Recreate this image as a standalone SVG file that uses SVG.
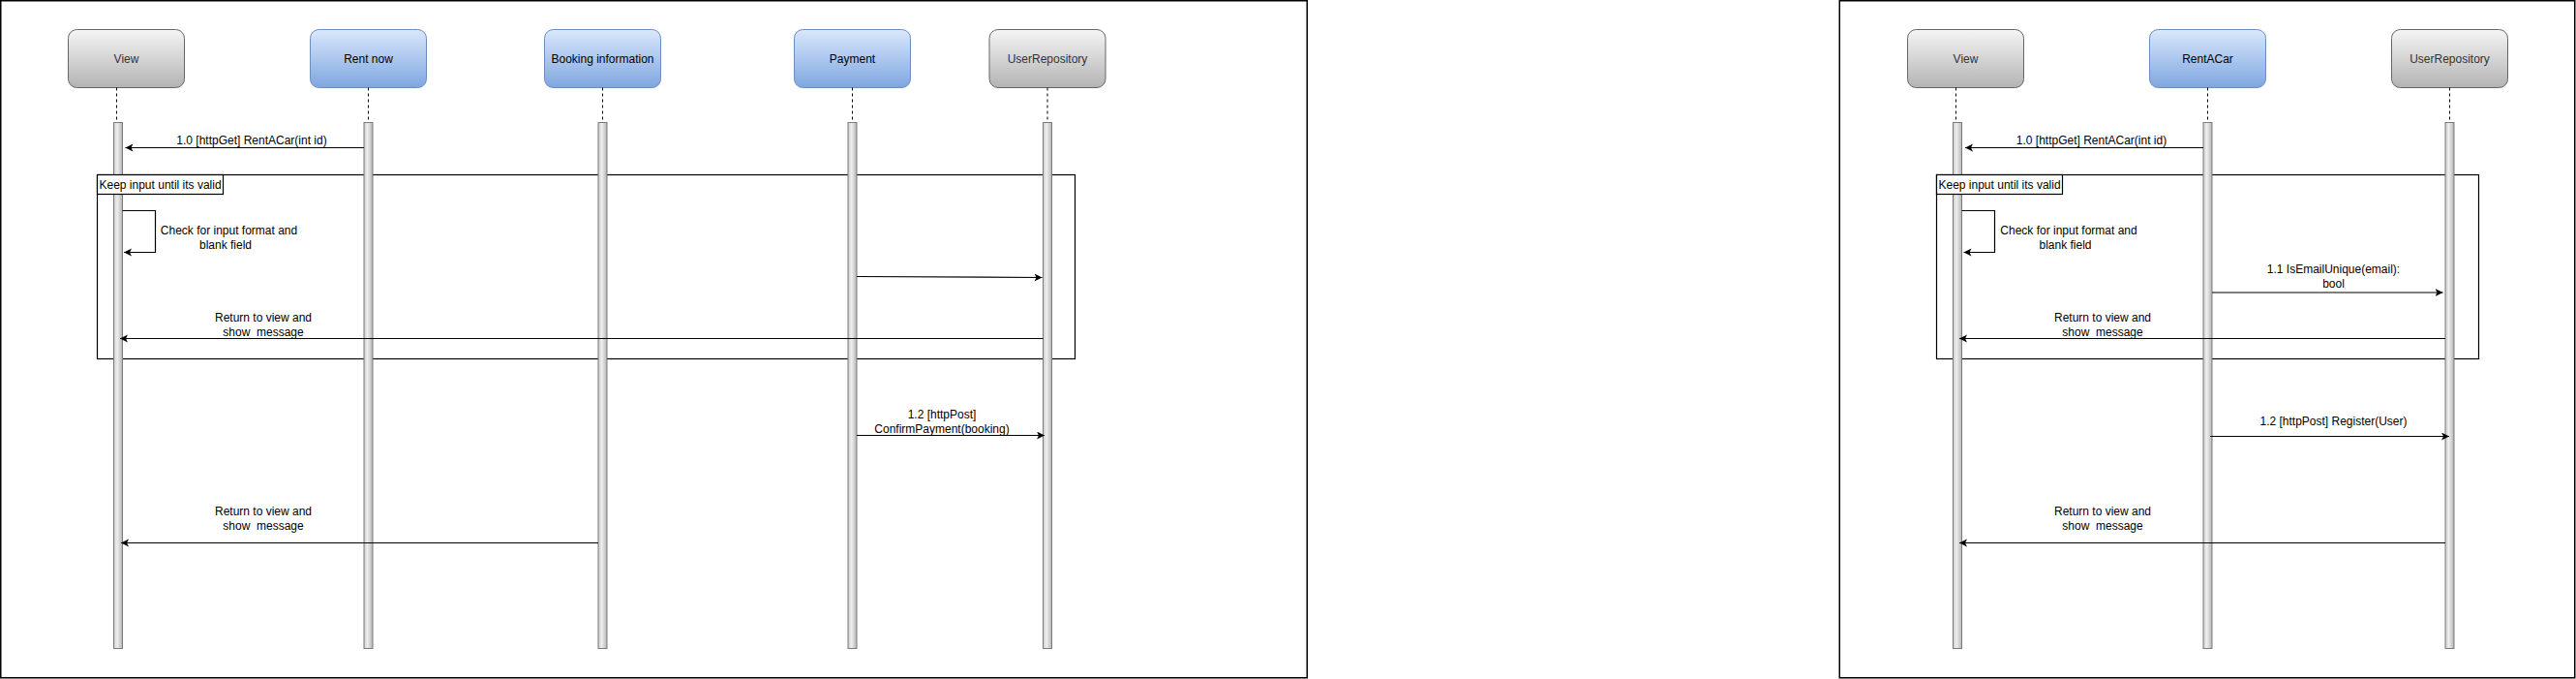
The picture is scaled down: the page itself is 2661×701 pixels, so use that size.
<svg xmlns="http://www.w3.org/2000/svg" width="2661" height="701" viewBox="0 0 2661 701">
<defs>
<linearGradient id="gGray" x1="0" y1="0" x2="0" y2="1"><stop offset="0" stop-color="#f5f5f5"/><stop offset="1" stop-color="#b3b3b3"/></linearGradient>
<linearGradient id="gBlue" x1="0" y1="0" x2="0" y2="1"><stop offset="0" stop-color="#dae8fc"/><stop offset="1" stop-color="#7ea6e0"/></linearGradient>
<linearGradient id="gBar" x1="0" y1="0" x2="1" y2="0"><stop offset="0" stop-color="#cccccc"/><stop offset="0.4" stop-color="#eeeeee"/><stop offset="1" stop-color="#b5b5b5"/></linearGradient>
<marker id="arr" markerUnits="userSpaceOnUse" markerWidth="10" markerHeight="9" refX="8" refY="4" orient="auto"><path d="M0,0 L8,4 L0,8 L2,4 Z" fill="#000"/></marker>
</defs>
<style>
.frame{fill:none;stroke:#000;stroke-width:1.5}
.loop{fill:none;stroke:#000;stroke-width:1.2}
.lbox{fill:#fff;stroke:#000;stroke-width:1.2}
.gray{fill:url(#gGray);stroke:#666666;stroke-width:1}
.blue{fill:url(#gBlue);stroke:#6c8ebf;stroke-width:1}
.dash{stroke:#000;stroke-width:1;stroke-dasharray:3 3;fill:none}
.bar{fill:url(#gBar);stroke:#7a7a7a;stroke-width:1}
.msg{fill:none;stroke:#000;stroke-width:1.2;marker-end:url(#arr)}
text{font-family:"Liberation Sans",Arial,sans-serif;font-size:12px;fill:#000;white-space:pre}
.c{text-anchor:middle}
.tg{fill:#333333}
</style>

<rect class="frame" x="0.75" y="0.75" width="1349.5" height="699"/>
<rect class="frame" x="1900.25" y="0.75" width="759.5" height="699"/>

<g id="loop-left">
<rect class="loop" x="100.5" y="180.5" width="1010" height="190"/>
</g>
<g id="loop-right">
<rect class="loop" x="2000.5" y="180.5" width="560" height="190"/>
</g>

<g id="view-left">
<rect class="gray" x="70.5" y="30.5" width="120" height="60" rx="9"/>
<text class="c tg" x="130.5" y="64.5">View</text>
<line class="dash" x1="120.5" y1="90.5" x2="120.5" y2="126"/>
<rect class="bar" x="117.5" y="126.5" width="9" height="543"/>
</g>
<g id="rentnow">
<rect class="blue" x="320.5" y="30.5" width="120" height="60" rx="9"/>
<text class="c" x="380.5" y="64.5">Rent now</text>
<line class="dash" x1="380.5" y1="90.5" x2="380.5" y2="126"/>
<rect class="bar" x="376" y="126.5" width="9" height="543"/>
</g>
<g id="booking">
<rect class="blue" x="562.5" y="30.5" width="120" height="60" rx="9"/>
<text class="c" x="622.5" y="64.5">Booking information</text>
<line class="dash" x1="622.5" y1="90.5" x2="622.5" y2="126"/>
<rect class="bar" x="618" y="126.5" width="9" height="543"/>
</g>
<g id="payment">
<rect class="blue" x="820.5" y="30.5" width="120" height="60" rx="9"/>
<text class="c" x="880.5" y="64.5">Payment</text>
<line class="dash" x1="880.5" y1="90.5" x2="880.5" y2="126"/>
<rect class="bar" x="876" y="126.5" width="9" height="543"/>
</g>
<g id="userrepo-left">
<rect class="gray" x="1022" y="30.5" width="120" height="60" rx="9"/>
<text class="c tg" x="1082" y="64.5">UserRepository</text>
<line class="dash" x1="1082" y1="90.5" x2="1082" y2="126"/>
<rect class="bar" x="1077.5" y="126.5" width="9" height="543"/>
</g>

<g id="view-right">
<rect class="gray" x="1970.5" y="30.5" width="120" height="60" rx="9"/>
<text class="c tg" x="2030.5" y="64.5">View</text>
<line class="dash" x1="2020.5" y1="90.5" x2="2020.5" y2="126"/>
<rect class="bar" x="2017.5" y="126.5" width="9" height="543"/>
</g>
<g id="rentacar">
<rect class="blue" x="2220.5" y="30.5" width="120" height="60" rx="9"/>
<text class="c" x="2280.5" y="64.5">RentACar</text>
<line class="dash" x1="2280.5" y1="90.5" x2="2280.5" y2="126"/>
<rect class="bar" x="2276" y="126.5" width="9" height="543"/>
</g>
<g id="userrepo-right">
<rect class="gray" x="2470.5" y="30.5" width="120" height="60" rx="9"/>
<text class="c tg" x="2530.5" y="64.5">UserRepository</text>
<line class="dash" x1="2530.5" y1="90.5" x2="2530.5" y2="126"/>
<rect class="bar" x="2526" y="126.5" width="9" height="543"/>
</g>

<g id="loop-label-left">
<rect class="lbox" x="100.5" y="180.5" width="130" height="20"/>
<text x="102.5" y="194.5">Keep input until its valid</text>
</g>
<g id="loop-label-right">
<rect class="lbox" x="2000.5" y="180.5" width="130" height="20"/>
<text x="2002.5" y="194.5">Keep input until its valid</text>
</g>

<g id="connectors">
<path class="msg" d="M376,152.5 H129.5"/>
<text class="c" x="260" y="149">1.0 [httpGet] RentACar(int id)</text>
<path class="msg" d="M126.5,217.5 H160.5 V260.5 H128"/>
<text class="c" x="236.5" y="241.5">Check for input format and</text>
<text class="c" x="233" y="256.5">blank field</text>
<path class="msg" d="M885,285.5 L1076.5,286.5"/>
<path class="msg" d="M1077.5,349.5 H124"/>
<text class="c" x="272" y="331.5">Return to view and</text>
<text class="c" x="272" y="346.5">show  message</text>
<path class="msg" d="M885,449.5 H1079"/>
<text class="c" x="973" y="431.5">1.2 [httpPost]</text>
<text class="c" x="973" y="446.5">ConfirmPayment(booking)</text>
<path class="msg" d="M618,560.5 H125"/>
<text class="c" x="272" y="531.5">Return to view and</text>
<text class="c" x="272" y="546.5">show  message</text>

<path class="msg" d="M2276,152.5 H2030"/>
<text class="c" x="2160.5" y="149">1.0 [httpGet] RentACar(int id)</text>
<path class="msg" d="M2026.5,217.5 H2060.5 V260.5 H2028.5"/>
<text class="c" x="2137" y="241.5">Check for input format and</text>
<text class="c" x="2133.5" y="256.5">blank field</text>
<path class="msg" d="M2285,302 H2523.5"/>
<text class="c" x="2410.5" y="281.5">1.1 IsEmailUnique(email):</text>
<text class="c" x="2410.5" y="296.5">bool</text>
<path class="msg" d="M2526,349.5 H2024"/>
<text class="c" x="2172" y="331.5">Return to view and</text>
<text class="c" x="2172" y="346.5">show  message</text>
<path class="msg" d="M2283,450.5 H2530"/>
<text class="c" x="2410.5" y="439">1.2 [httpPost] Register(User)</text>
<path class="msg" d="M2526,560.5 H2024"/>
<text class="c" x="2172" y="531.5">Return to view and</text>
<text class="c" x="2172" y="546.5">show  message</text>
</g>
</svg>
